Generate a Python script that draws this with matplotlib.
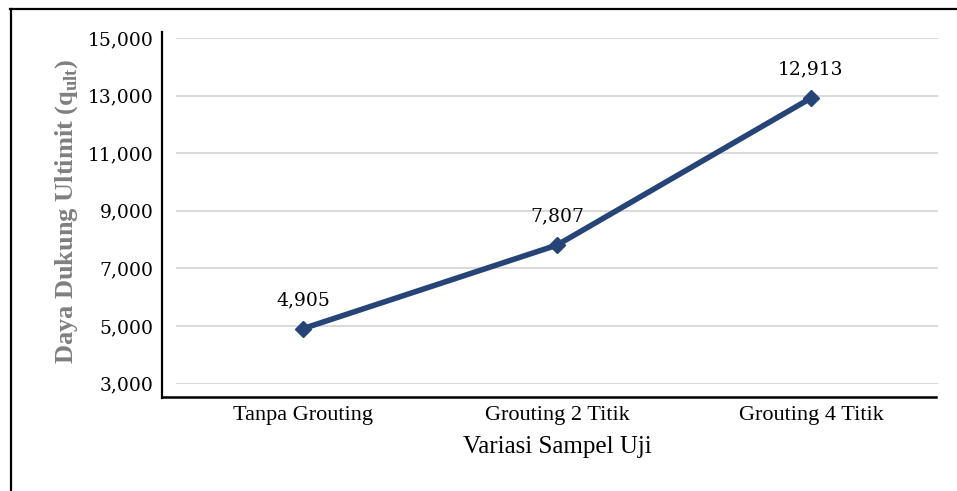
import matplotlib
matplotlib.use('Agg')
import matplotlib.pyplot as plt
from matplotlib.lines import Line2D
from matplotlib.ticker import FuncFormatter
import numpy as np

# data
kategori = ['Tanpa Grouting', 'Grouting 2 Titik', 'Grouting 4 Titik']
q_ult = [4905, 7807, 12913]
y_ticks = [3000, 5000, 7000, 9000, 11000, 13000, 15000]

plt.rcParams['mathtext.fontset'] = 'custom'
plt.rcParams['mathtext.rm'] = 'Liberation Serif'
plt.rcParams['mathtext.bf'] = 'Liberation Serif:bold'

W, H = 957, 491
fig = plt.figure(figsize=(W / 100, H / 100), dpi=100)

def fx(px):
    return px / W

def fy(py):
    return 1 - py / H

# plot area
ax = fig.add_axes([fx(176), fy(383.5), fx(938 - 176), (383.5 - 38) / H])
x = np.arange(len(kategori))
ax.plot(x, q_ult, color='#264478', lw=4.0, marker='D', ms=8.5,
        solid_capstyle='round', zorder=3)

for xi, v in zip(x, q_ult):
    ax.annotate(f'{v:,}', (xi, v), xytext=(0, 14), textcoords='offset points',
                ha='center', va='bottom', fontsize=13.5, family='DejaVu Serif')

ax.set_xlim(-0.5, 2.5)
ax.set_ylim(3000, 15000)
ax.set_yticks(y_ticks)
ax.yaxis.set_major_formatter(FuncFormatter(lambda v, p: f'{int(v):,}'))
ax.set_xticks(x)
ax.set_xticklabels(kategori, family='Liberation Serif', fontsize=16)
for lab in ax.get_yticklabels():
    lab.set_family('DejaVu Serif')
    lab.set_fontsize(13.5)
ax.tick_params(axis='both', length=0)
ax.tick_params(axis='y', pad=16)
ax.tick_params(axis='x', pad=16)
ax.grid(axis='y', color='#d9d9d9', lw=1.4)
ax.set_axisbelow(True)
for s in ax.spines.values():
    s.set_visible(False)

ax.set_xlabel('Variasi Sampel Uji', family='Liberation Serif', fontsize=18, labelpad=8)
ax.set_ylabel('Daya Dukung Ultimit (q$_{\\mathbf{ult}}$)', family='Liberation Serif',
              fontsize=19, fontweight='bold', color='#7f7f7f', labelpad=6)

# axis lines (offset from the plot area)
fig.add_artist(Line2D([fx(162), fx(162)], [fy(32), fy(398)], color='black', lw=1.6))
fig.add_artist(Line2D([fx(161.5), fx(936)], [fy(397), fy(397)], color='black', lw=1.8))

# frame
fig.add_artist(Line2D([fx(10.5), fx(10.5)], [fy(9), 0], color='black', lw=1.6))
fig.add_artist(Line2D([fx(10), 1], [fy(9), fy(9)], color='black', lw=1.6))

fig.savefig('out.png', dpi=100)
